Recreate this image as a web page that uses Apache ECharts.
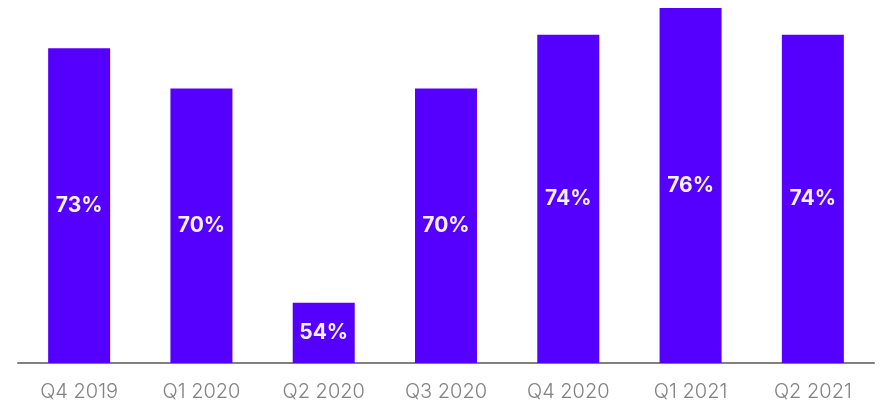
<!DOCTYPE html>
<html>
<head>
<meta charset="utf-8">
<script src="https://cdn.jsdelivr.net/npm/echarts@6/dist/echarts.min.js"></script>
<style>
  html, body { margin: 0; padding: 0; background: #ffffff; }
  #chart { width: 884px; height: 404px; }
</style>
</head>
<body>
<div id="chart"></div>
<script>
// Quarterly share, in percent
const quarters = ['Q4 2019', 'Q1 2020', 'Q2 2020', 'Q3 2020', 'Q4 2020', 'Q1 2021', 'Q2 2021'];
const shares = [73, 70, 54, 70, 74, 76, 74];

const chart = echarts.init(document.getElementById('chart'), null, { renderer: 'canvas' });

chart.setOption({
  animation: false,
  grid: { left: 18, right: 10, top: 8, bottom: 41, containLabel: false },
  xAxis: {
    type: 'category',
    data: quarters,
    axisLine: { show: true, lineStyle: { color: '#808080', width: 2 } },
    axisTick: { show: false },
    axisLabel: {
      color: '#828282',
      fontFamily: 'Inter',
      fontWeight: 300,
      fontSize: 20,
      margin: 19
    }
  },
  yAxis: {
    type: 'value',
    min: 49.5,
    max: 76,
    show: false,
    splitLine: { show: false }
  },
  series: [{
    type: 'bar',
    data: shares,
    barWidth: 62,
    itemStyle: { color: '#5500ff' },
    label: {
      show: true,
      position: 'inside',
      color: '#f4f0ff',
      fontFamily: 'Inter',
      fontWeight: 'bold',
      fontSize: 21,
      formatter: p => p.value + '%'
    }
  }]
});
</script>
</body>
</html>
